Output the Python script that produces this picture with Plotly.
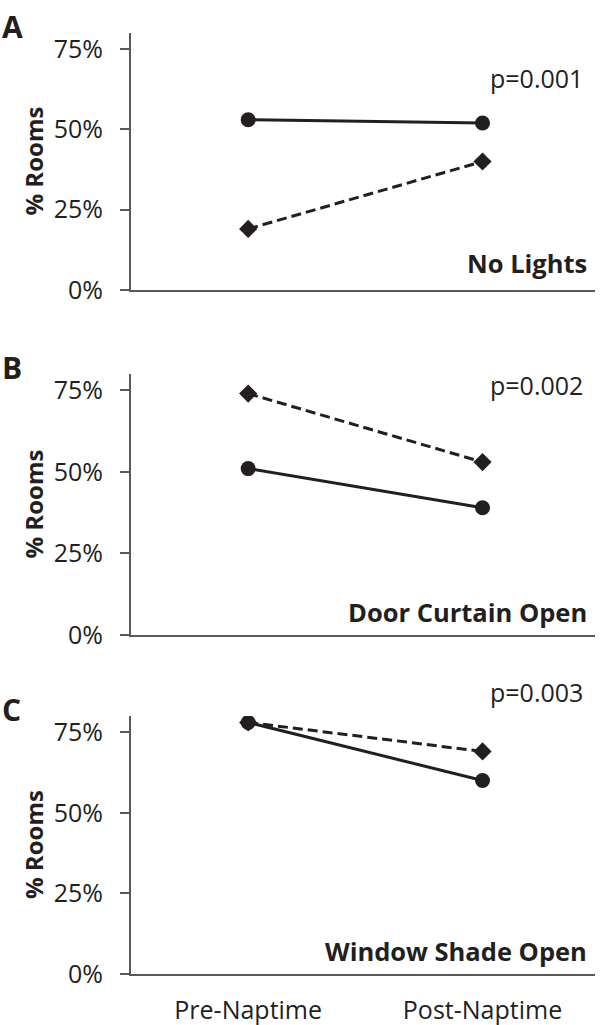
import plotly.graph_objects as go

categories = ["Pre-Naptime", "Post-Naptime"]
panel_letters = ["A", "B", "C"]
panel_titles = ["No Lights", "Door Curtain Open", "Window Shade Open"]
p_values = ["p=0.001", "p=0.002", "p=0.003"]
solid_values = [[53, 52], [51, 39], [78, 60]]
dashed_values = [[19, 40], [74, 53], [78, 69]]
y_ticks = [0, 25, 50, 75]
y_tick_labels = ["0%", "25%", "50%", "75%"]

W, H = 600, 1025
FONT = "Open Sans"
INK = "#231f20"
AXIS = "#595959"

# pixel layout of panels (top, bottom) in figure pixels
panel_px = [(33, 290), (374, 635), (716, 974)]
x_left, x_right = 131, 595

fig = go.Figure()
annotations = []
for i in range(3):
    xa = "x" if i == 0 else f"x{i+1}"
    ya = "y" if i == 0 else f"y{i+1}"
    fig.add_trace(go.Scatter(
        x=categories, y=dashed_values[i], xaxis=xa, yaxis=ya, mode="lines+markers",
        line=dict(color=INK, width=3, dash="10px,5px"),
        marker=dict(symbol="diamond", size=14, color=INK), showlegend=False))
    fig.add_trace(go.Scatter(
        x=categories, y=solid_values[i], xaxis=xa, yaxis=ya, mode="lines+markers",
        line=dict(color=INK, width=3),
        marker=dict(symbol="circle", size=15, color=INK), showlegend=False))
    top, bot = panel_px[i]
    dom = [1 - bot / H, 1 - top / H]
    ax_common = dict(showline=True, linecolor=AXIS, linewidth=2, showgrid=False,
                     zeroline=False, automargin=False)
    fig.layout[f"xaxis{'' if i == 0 else i+1}"] = dict(
        domain=[x_left / W, x_right / W], type="category", range=[-0.5, 1.48],
        anchor=ya, showticklabels=(i == 2), ticks="",
        tickfont=dict(family=FONT, size=25, color=INK), ticklabelstandoff=13,
        **ax_common)
    fig.layout[f"yaxis{'' if i == 0 else i+1}"] = dict(
        domain=dom, range=[0, 80], anchor=xa, tickvals=y_ticks, ticktext=y_tick_labels,
        ticks="outside", ticklen=9, tickwidth=2, tickcolor=AXIS,
        tickfont=dict(family=FONT, size=25, color=INK), ticklabelstandoff=12,
        **ax_common)
    # y title
    annotations.append(dict(text="<b>% Rooms</b>", textangle=-90, xref="paper", yref="paper",
                            x=33 / W, y=1 - (top + bot) / 2 / H, xanchor="center", yanchor="middle",
                            showarrow=False, font=dict(family=FONT, size=24, color=INK)))
    # panel letter
    annotations.append(dict(text=f"<b>{panel_letters[i]}</b>", xref="paper", yref="paper",
                            x=0, y=1 - (top - 29) / H, xanchor="left", yanchor="top",
                            showarrow=False, font=dict(family=FONT, size=30, color=INK)))
    # p value
    p_off = [45, 11, -24][i]
    annotations.append(dict(text=p_values[i], xref="paper", yref="paper",
                            x=585 / W, y=1 - (top + p_off) / H, xanchor="right", yanchor="middle",
                            showarrow=False, font=dict(family=FONT, size=25, color=INK)))
    # panel title
    t_off = [27, 23, 23][i]
    annotations.append(dict(text=f"<b>{panel_titles[i]}</b>", xref="paper", yref="paper",
                            x=589 / W, y=1 - (bot - t_off) / H, xanchor="right", yanchor="middle",
                            showarrow=False, font=dict(family=FONT, size=25.5, color=INK)))

fig.update_layout(template="none", width=W, height=H, margin=dict(l=0, r=0, t=0, b=0, pad=0),
                  paper_bgcolor="white", plot_bgcolor="white", annotations=annotations,
                  font=dict(family=FONT, color=INK), hovermode=False)
fig.write_html("out.html", config={"displayModeBar": False},
               post_script="document.body.style.margin='0px';document.body.style.padding='0px';"
                           "document.documentElement.style.overflow='hidden';")
